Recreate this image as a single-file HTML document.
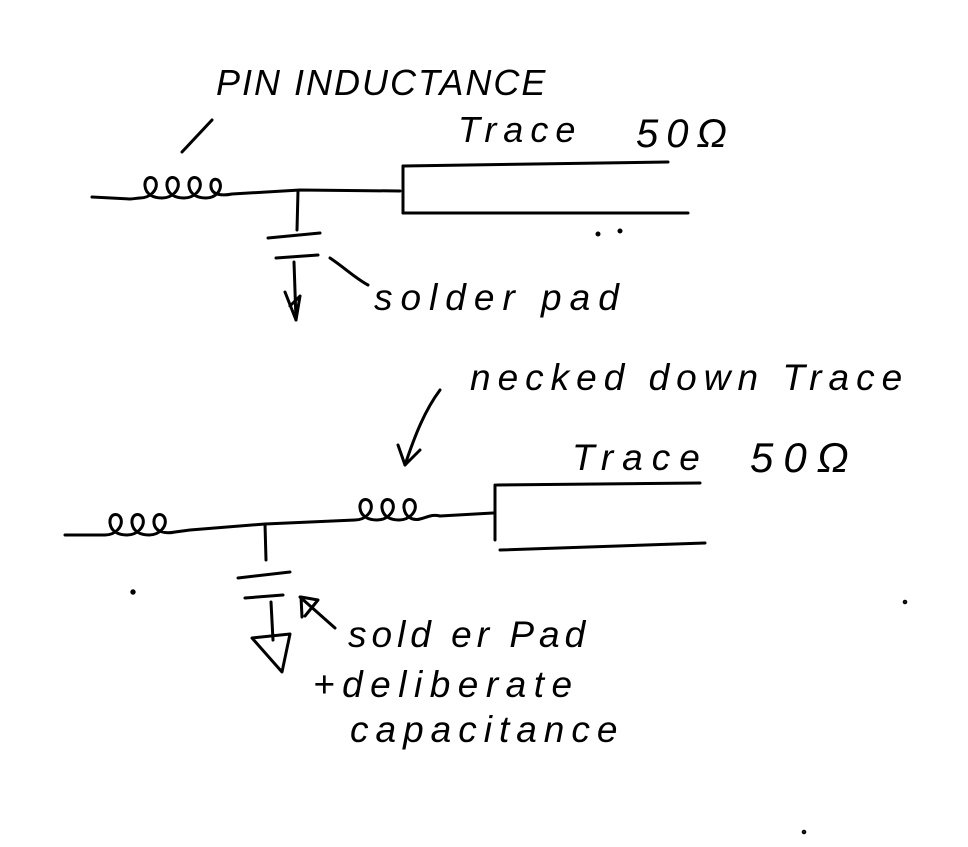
<!DOCTYPE html>
<html><head><meta charset="utf-8"><style>
html,body{margin:0;padding:0;background:#fff;}
svg{display:block;}
text{font-family:"Liberation Sans",sans-serif;fill:#000;font-style:italic;}
</style></head><body>
<svg width="968" height="847" viewBox="0 0 968 847" xmlns="http://www.w3.org/2000/svg" fill="none" stroke="#000" stroke-width="3" stroke-linecap="round" stroke-linejoin="round">
<!-- top -->
<text x="216" y="95" font-size="36" stroke="none" letter-spacing="2">PIN INDUCTANCE</text>
<line x1="212" y1="120" x2="182" y2="152"/>
<text x="458" y="142" font-size="36" stroke="none" letter-spacing="7">Trace</text>
<text x="636" y="147" font-size="40" stroke="none" letter-spacing="8">50Ω</text>
<path d="M92,197 L130,199 C134,199 137,198 140,198
C150,198 158,190 156,182 C154,175 144,176 145,186 C146,195 154,198 162,198
C172,198 180,190 178,182 C176,175 166,176 167,186 C168,195 176,198 184,198
C194,198 202,190 200,182 C198,175 188,176 189,186 C190,195 198,198 206,198
C216,198 222,190 220,183 C218,177 210,178 211,187 C212,195 222,196 232,194 L300,190 L400,191"/>
<line x1="298" y1="191" x2="297" y2="230"/>
<line x1="268" y1="238" x2="320" y2="233"/>
<line x1="276" y1="258" x2="318" y2="255"/>
<line x1="294" y1="262" x2="296" y2="320"/>
<path d="M285,292 L296,320 L300,296 L290,306"/>
<path d="M330,258 C345,268 355,278 368,285"/>
<text x="374" y="310" font-size="37" stroke="none" letter-spacing="8">solder pad</text>
<line x1="403" y1="166" x2="403" y2="213"/>
<line x1="403" y1="166" x2="668" y2="162"/>
<line x1="403" y1="213" x2="688" y2="213"/>
<circle cx="598" cy="234" r="1" fill="#000"/>
<circle cx="620" cy="231" r="1" fill="#000"/>
<!-- bottom -->
<text x="470" y="390" font-size="37" stroke="none" letter-spacing="7">necked down Trace</text>
<path d="M440,390 C425,410 415,435 405,465"/>
<path d="M398,445 L405,465 L420,450"/>
<text x="572" y="470" font-size="37" stroke="none" letter-spacing="9">Trace</text>
<text x="750" y="472" font-size="42" stroke="none" letter-spacing="10">50Ω</text>
<path d="M65,535 L100,535 C102,535 104,535 105,535
C115,535 123,527 121,519 C119,512 109,513 110,523 C111,532 119,535 127,535
C137,535 145,527 143,519 C141,512 131,513 132,523 C133,532 141,535 149,535
C159,535 167,527 165,519 C163,512 153,513 154,523 C155,532 165,534 175,532 L190,530 L265,524 L355,520
C365,520 373,512 371,504 C369,497 359,498 360,508 C361,517 369,520 377,520
C387,520 395,512 393,504 C391,497 381,498 382,508 C383,517 391,520 399,520
C409,520 417,512 415,504 C413,497 403,498 404,508 C405,517 413,521 420,519 C428,517 432,514 440,516 L493,513"/>
<line x1="265" y1="524" x2="266" y2="560"/>
<line x1="238" y1="578" x2="290" y2="572"/>
<line x1="245" y1="598" x2="283" y2="595"/>
<line x1="271" y1="602" x2="273" y2="640"/>
<path d="M252,638 L290,634 L282,672 Z"/>
<path d="M335,628 L300,597"/>
<path d="M301,597 L302,617 M301,597 L318,600 L305,616"/>
<text x="348" y="647" font-size="37" stroke="none" letter-spacing="5">sold er Pad</text>
<text x="313" y="697" font-size="37" stroke="none" letter-spacing="7.5">+deliberate</text>
<text x="350" y="742" font-size="37" stroke="none" letter-spacing="7">capacitance</text>
<line x1="495" y1="485" x2="495" y2="540"/>
<line x1="497" y1="485" x2="700" y2="483"/>
<line x1="500" y1="550" x2="705" y2="543"/>
<circle cx="133" cy="592" r="1.2" fill="#000"/>
<circle cx="905" cy="602" r="0.8" fill="#000"/>
<circle cx="804" cy="832" r="0.8" fill="#000"/>
</svg>
</body></html>
